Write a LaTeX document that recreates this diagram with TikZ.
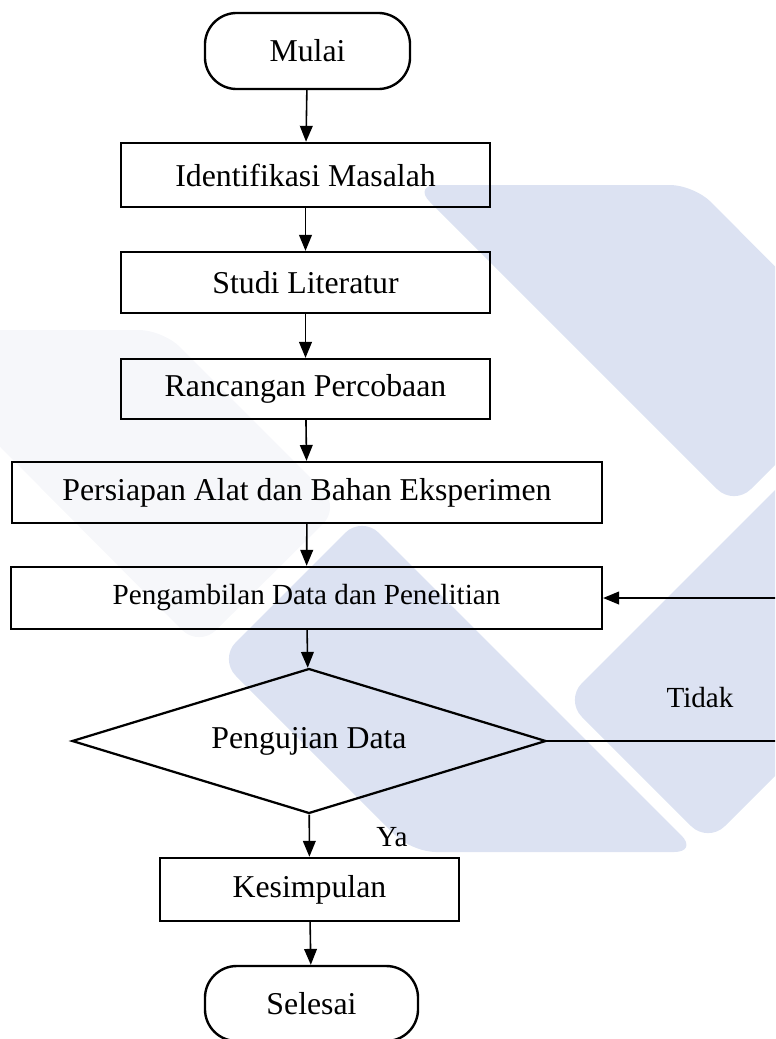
\documentclass[tikz,border=0pt]{standalone}
\usepackage{fontspec}
\setmainfont{Liberation Serif}
\usetikzlibrary{shapes.geometric, arrows.meta, positioning}
\definecolor{watermark}{RGB}{220,226,242}
\definecolor{faintgrey}{RGB}{246,247,250}

\begin{document}
\begin{tikzpicture}[x=0.3774pt, y=-0.3774pt, ->, >={Triangle[length=6pt, width=4.8pt]}, line width=0.6pt,
    box/.style={rectangle, draw, line width=0.9pt, inner sep=0pt, font=\fontsize{12}{14}\selectfont},
    terminal/.style={box, rounded corners=12pt},
    decision/.style={diamond, draw, line width=0.85pt, inner sep=0pt, shape aspect=3.27, font=\fontsize{12}{14}\selectfont},
    note/.style={inner sep=0pt, font=\fontsize{11}{13}\selectfont}]
        \useasboundingbox (0,0) rectangle (775,1039);
        \clip (0,0) rectangle (775,1039);
        % logo in the background
        \fill[fill=faintgrey, rounded corners=9pt] (-116,330) -- (163,330) -- (340,507) -- (199,647) -- cycle;
        \fill[fill=watermark, rounded corners=9pt] (413,185) -- (694,185) -- (874,366) -- (734,506) -- cycle;
        \fill[fill=watermark, rounded corners=9pt] (362,516) -- (219,659) -- (412,852) -- (698,852) -- cycle;
        \fill[fill=watermark, rounded corners=9pt] (565,700) -- (900,365) -- (1043,508) -- (708,843) -- cycle;
        \node [terminal, minimum width=77.4pt, minimum height=28.7pt] (mulai) at (307.5, 51) {Mulai};
        \node [box, minimum width=139.3pt, minimum height=24.2pt] (identifikasi) at (305.5, 175) {Identifikasi Masalah};
        \node [box, minimum width=139.3pt, minimum height=23pt] (studi) at (305.5, 282.5) {Studi Literatur};
        \node [box, minimum width=139.3pt, minimum height=22.6pt] (rancangan) at (305.5, 389) {Rancangan Percobaan};
        \node [box, minimum width=222.7pt, minimum height=23pt] (persiapan) at (307, 492.5) {Persiapan Alat dan Bahan Eksperimen};
        \node [box, minimum width=223pt, minimum height=23.4pt, font=\fontsize{11}{13}\selectfont] (ambil) at (306.5, 598) {Pengambilan Data dan Penelitian};
        \node [decision, minimum width=178.9pt, minimum height=54.7pt] (uji) at (309, 741) {Pengujian Data};
        \node [box, minimum width=112.8pt, minimum height=23.8pt] (simpul) at (309.5, 889.5) {Kesimpulan};
        \node [terminal, minimum width=80.4pt, minimum height=28.3pt] (selesai) at (311.5, 1003.5) {Selesai};
        \node [note] (tidak) at (700, 698) {Tidak};
        \node [note] (ya) at (392, 837) {Ya};
        \coordinate (balikB) at (780, 741);
        \coordinate (balikA) at (780, 598);
        \path (mulai) edge (identifikasi);
        \path (identifikasi) edge (studi);
        \path (studi) edge (rancangan);
        \path (rancangan) edge (persiapan);
        \path (persiapan) edge (ambil);
        \path (ambil) edge (uji);
        \path (uji) edge (simpul);
        \path (simpul) edge (selesai);
        \draw (uji.east) -- (balikB) -- (balikA) -- (ambil.east);
    \end{tikzpicture}
\end{document}
